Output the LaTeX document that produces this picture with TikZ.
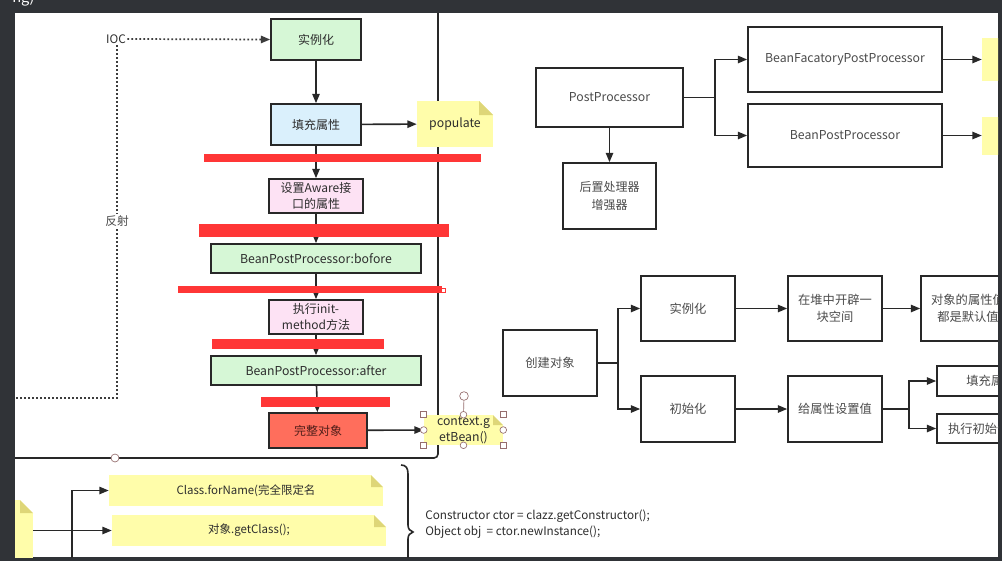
\documentclass[tikz,border=0pt]{standalone}
\usepackage{fontspec}
\setmainfont{Noto Sans CJK SC}
\usetikzlibrary{arrows.meta,fit,calc}
\definecolor{frame}{RGB}{48,51,55}
\definecolor{linec}{RGB}{40,40,40}
\definecolor{txt}{RGB}{45,45,45}
\definecolor{txtr}{RGB}{75,75,75}
\definecolor{lgreen}{RGB}{214,247,214}
\definecolor{lblue}{RGB}{218,240,252}
\definecolor{lpink}{RGB}{253,226,244}
\definecolor{coral}{RGB}{255,110,92}
\definecolor{barred}{RGB}{255,54,54}
\definecolor{notey}{RGB}{255,253,170}
\definecolor{notefold}{RGB}{222,214,120}
\definecolor{handle}{RGB}{150,110,110}
\begin{document}
\begin{tikzpicture}[x=0.75pt,y=-0.75pt,
  box/.style={draw=linec, line width=1.2pt, inner sep=0pt, align=center, text=txt,
              font=\fontsize{9}{12.5}\selectfont},
  rbox/.style={box, text=txtr, font=\fontsize{9.2}{12.5}\selectfont},
  arr/.style={-{Triangle[length=7pt,width=5.5pt]}, line width=1.2pt, draw=linec},
  plain/.style={line width=1.2pt, draw=linec},
  dotl/.style={line width=1.3pt, draw={rgb,255:red,60;green,60;blue,60}, dash pattern=on 1.3pt off 1.7pt},
  redbar/.style={fill=barred, draw=none},
  note/.style={fill=notey, draw=none, inner sep=0pt, align=center, text=txt,
    font=\fontsize{9}{12.5}\selectfont,
    path picture={
      \fill[white] ([xshift=-#1*0.75pt]path picture bounding box.north east) --
        (path picture bounding box.north east) --
        ([yshift=-#1*0.75pt]path picture bounding box.north east) -- cycle;
      \fill[notefold] ([xshift=-#1*0.75pt]path picture bounding box.north east) --
        ([yshift=-#1*0.75pt]path picture bounding box.north east) --
        ([xshift=-#1*0.75pt,yshift=-#1*0.75pt]path picture bounding box.north east) -- cycle;
    }},
  note/.default=10,
  hsq/.style={draw=handle, fill=white, line width=0.5pt, minimum size=4.5pt, inner sep=0pt},
  hci/.style={draw=handle, fill=white, line width=0.5pt, circle, minimum size=5pt, inner sep=0pt},
]
\useasboundingbox (0,0) rectangle (1002,561);
\fill[frame] (0,0) rectangle (1002,561);
\fill[white] (15,13) rectangle (998,557);
\begin{scope}
\clip (0,0) rectangle (1002,13);
\node[anchor=base west, text=white, inner sep=0pt, font=\fontsize{11}{11}\selectfont] (hd) at (12,2) {ng)};
\end{scope}

\begin{scope}
\clip (15,13) rectangle (998,557);

% ---------- big container ----------
\coordinate (ct) at (438,10);
\coordinate (cb) at (438,458);
\coordinate (cl) at (10,458);
\draw[line width=1.2pt, draw=linec, rounded corners=3pt] (ct) -- (cb) -- (cl);
\node[hci, minimum size=6pt] (cc) at (115,458) {};

% ---------- left column ----------
\node[box, fill=lgreen, fit={(271,19)(361,60)}] (inst) {};
\node[text=txt, font=\fontsize{9}{12.5}\selectfont] at (inst) {实例化};
\node[box, fill=lblue, fit={(271,104)(361,145)}] (fill) {};
\node[text=txt, font=\fontsize{9}{12.5}\selectfont] at (fill) {填充属性};
\node[note=14, fit={(417,101)(493,147)}] (pop) {};
\node[text=txt, font=\fontsize{9.2}{12.5}\selectfont] at (pop) {populate};
\node[box, fill=lpink, fit={(269,179)(363,213)}] (aware) {};
\node[text=txt, align=center, font=\fontsize{9}{12.5}\selectfont] at (aware) {设置Aware接\\口的属性};
\node[box, fill=lgreen, fit={(211,244)(421,273)}] (bef) {};
\node[text=txt, font=\fontsize{9.2}{12.5}\selectfont] at (bef) {BeanPostProcessor:bofore};
\node[box, fill=lpink, fit={(269,300)(363,334)}] (init) {};
\node[text=txt, align=center, font=\fontsize{9}{12.5}\selectfont] at (init) {执行init-\\method方法};
\node[box, fill=lgreen, fit={(211,356)(421,385)}] (aft) {};
\node[text=txt, font=\fontsize{9.2}{12.5}\selectfont] at (aft) {BeanPostProcessor:after};
\node[box, fill=coral, fit={(269,413)(367,448)}] (done) {};
\node[text={rgb,255:red,80;green,30;blue,25}, font=\fontsize{9}{12.5}\selectfont] at (done) {完整对象};
\node[note=10, fit={(424,415)(503,445)}] (ctx) {};
\node[text=txt, align=center, font=\fontsize{9.2}{12}\selectfont] at (ctx) {context.g\\etBean()};

\draw[arr] (inst) -- (fill);
\draw[arr] (fill) -- (pop);
\draw[arr] (fill) -- (aware);
\draw[arr] (aware) -- (bef);
\draw[arr] (bef) -- (init);
\draw[arr] (init) -- (aft);
\draw[arr] (aft) -- (done);
\draw[arr] (done) -- (ctx.west);

% selection handles on ctx
\coordinate (rot) at (464,396);
\draw[draw=handle, line width=0.5pt] (rot) -- (ctx.north);
\node[hci, minimum size=6.5pt] (hr) at (rot) {};
\node[hsq] at (ctx.north west) {};
\node[hsq] at (ctx.north east) {};
\node[hsq] at (ctx.south west) {};
\node[hsq] at (ctx.south east) {};
\node[hci] at (ctx.north) {};
\node[hci] at (ctx.south) {};
\node[hci] at (ctx.west) {};
\node[hci] at (ctx.east) {};

% red bars
\fill[redbar] (204,154) rectangle (481,162);
\fill[redbar] (199,224) rectangle (449,237);
\fill[redbar] (178,286) rectangle (442,293);
\draw[barred, fill=white, line width=0.6pt] (441,288) rectangle (445,292.5);
\fill[redbar] (212,339) rectangle (384,349);
\fill[redbar] (261,397) rectangle (390,407);

% IOC dotted
\node[text=txt, inner sep=1pt, font=\fontsize{8.8}{11}\selectfont] (ioc) at (116,39) {IOC};
\draw[dotl, -{Triangle[length=7pt,width=5.5pt]}] (ioc.east) -- (inst.west);
\coordinate (dc) at (117,398);
\coordinate (de) at (10,398);
\draw[dotl] (ioc.south -| dc) -- (dc) -- (de);
\node[fill=white, text=txtr, inner sep=1pt, font=\fontsize{8.8}{11}\selectfont] (fs) at (117,221) {反射};

% ---------- right top ----------
\node[rbox, fit={(536,68)(683,127)}] (pp) {};
\node[text=txtr, font=\fontsize{9.2}{12}\selectfont] at (pp) {PostProcessor};
\node[rbox, fit={(563,163)(656,229)}] (hz) {};
\node[text=txtr, align=center, font=\fontsize{9}{13}\selectfont] at (hz) {后置处理器\\增强器};
\node[rbox, fit={(748,27)(942,92)}] (bfpp) {};
\node[text=txtr, font=\fontsize{9.2}{12}\selectfont] at (bfpp) {BeanFacatoryPostProcessor};
\node[rbox, fit={(748,104)(942,167)}] (bpp) {};
\node[text=txtr, font=\fontsize{9.2}{12}\selectfont] at (bpp) {BeanPostProcessor};
\node[fill=notey, inner sep=0pt, fit={(982,38)(1010,81)}] (y1) {};
\node[fill=notey, inner sep=0pt, fit={(982,117)(1010,155)}] (y2) {};

\draw[arr] (pp) -- (hz);
\coordinate (j1) at (715,97.5);
\draw[plain] (pp.east) -- (j1);
\draw[arr] (j1) |- (bfpp.west);
\draw[arr] (j1) |- (bpp.west);
\draw[arr] (bfpp.east) -- (bfpp.east -| y1.west);
\draw[arr] (bpp.east) -- (bpp.east -| y2.west);

% ---------- right middle ----------
\node[rbox, fit={(503,330)(597,396)}] (cj) {};
\node[text=txtr, font=\fontsize{9.2}{12}\selectfont] at (cj) {创建对象};
\node[rbox, fit={(641,276)(735,341)}] (sl) {};
\node[text=txtr, font=\fontsize{9.2}{12}\selectfont] at (sl) {实例化};
\node[rbox, fit={(641,376)(735,442)}] (cs) {};
\node[text=txtr, font=\fontsize{9.2}{12}\selectfont] at (cs) {初始化};
\node[rbox, fit={(788,276)(882,341)}] (dz) {};
\node[text=txtr, align=center, font=\fontsize{9.2}{13}\selectfont] at (dz) {在堆中开辟一\\块空间};
\node[rbox, fit={(921,276)(1015,341)}] (mr) {};
\node[text=txtr, align=center, font=\fontsize{9.2}{13}\selectfont] at (mr) {对象的属性值\\都是默认值};
\node[rbox, fit={(788,376)(882,442)}] (gs) {};
\node[text=txtr, font=\fontsize{9.2}{12}\selectfont] at (gs) {给属性设置值};
\node[rbox, fit={(937,366)(1045,396)}] (tc) {};
\node[text=txtr, font=\fontsize{9.2}{12}\selectfont] at (tc) {填充属性};
\node[rbox, fit={(937,414)(1045,443)}] (zx) {};
\node[text=txtr, font=\fontsize{9.2}{12}\selectfont] at (zx) {执行初始化方法};

\coordinate (j2) at (618,363);
\draw[plain] (cj.east) -- (j2);
\draw[arr] (j2) |- (sl.west);
\draw[arr] (j2) |- (cs.west);
\draw[arr] (sl) -- (dz);
\draw[arr] (dz) -- (mr);
\draw[arr] (cs) -- (gs);
\coordinate (j3) at (909,409);
\draw[plain] (gs.east) -- (j3);
\draw[arr] (j3) |- (tc.west);
\draw[arr] (j3) |- (zx.west);

% ---------- bottom ----------
\node[note=13, fit={(-40,500)(33,600)}] (ln) {};
\node[note=12, fit={(109,475)(383,506)}] (cf) {};
\node[text=txt, font=\fontsize{8.6}{12}\selectfont] at (cf) {Class.forName(完全限定名};
\node[note=12, fit={(112,515)(386,546)}] (gc) {};
\node[text=txt, font=\fontsize{8.6}{12}\selectfont] at (gc) {对象.getClass();};
\draw[arr] (gc.west -| ln.east) -- (gc.west);
\coordinate (vb) at (72,565);
\draw[arr] (vb) |- (cf.west);

\draw[line width=1.2pt, draw=linec]
  (401,465) .. controls (406,465) and (408,468) .. (408,474) -- (408,525)
  .. controls (408,529) and (410,531) .. (413,532)
  .. controls (410,533) and (408,535) .. (408,539) -- (408,565);
\node[anchor=west, align=left, text=txt, inner sep=0pt, font=\fontsize{8.8}{11.5}\selectfont] (code) at (425,524)
  {Constructor ctor = clazz.getConstructor();\\Object obj\ \ = ctor.newInstance();};
\end{scope}
\end{tikzpicture}
\end{document}
